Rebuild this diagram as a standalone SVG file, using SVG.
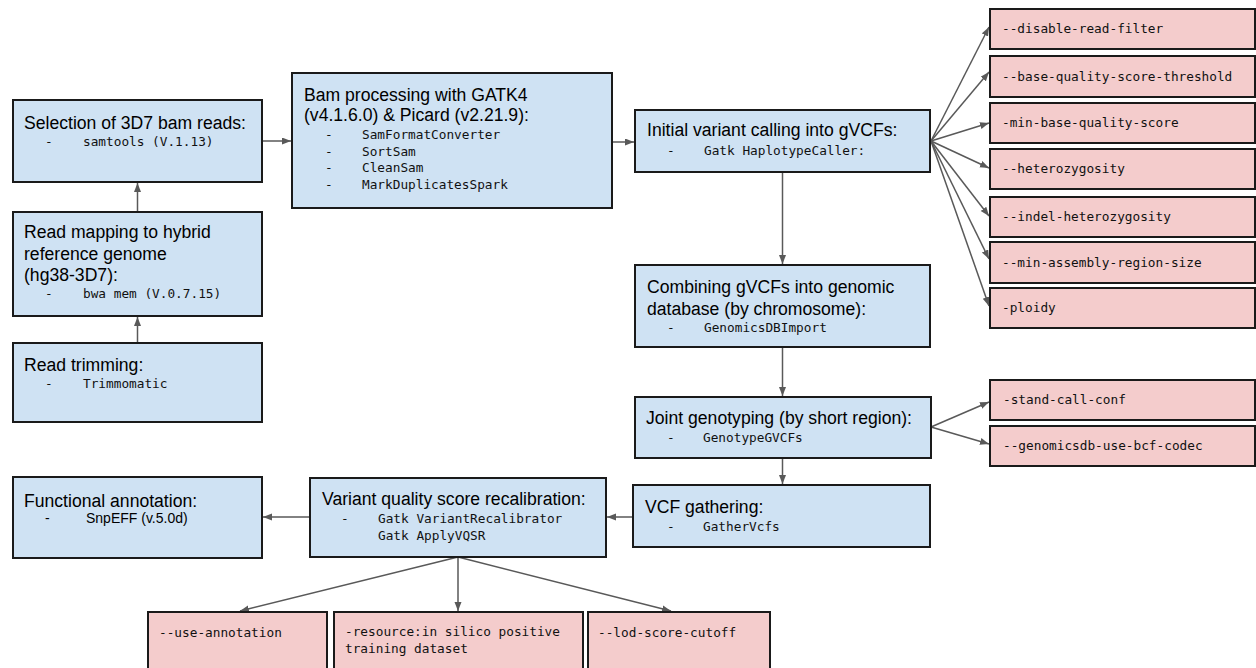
<svg xmlns="http://www.w3.org/2000/svg" width="1256" height="668" viewBox="0 0 1256 668">
<style>
.b{fill:#cfe2f3;stroke:#1a1a1a;stroke-width:2}
.p{fill:#f4cccc;stroke:#1a1a1a;stroke-width:2}
.t{font-family:"Liberation Sans",Arial,sans-serif;font-size:17.6px;fill:#000}
.s{font-family:"Liberation Sans",Arial,sans-serif;font-size:14px;fill:#000}
.m{font-family:"DejaVu Sans Mono","Liberation Mono",monospace;font-size:12.75px;fill:#111}
.c{stroke:#595959;stroke-width:1.5;fill:none;marker-end:url(#ah)}
</style>
<defs>
<marker id="ah" markerUnits="userSpaceOnUse" markerWidth="10" markerHeight="8" refX="9" refY="3.5" orient="auto">
<path d="M0,0 L9,3.5 L0,7 z" fill="#595959"/>
</marker>
</defs>
<rect width="1256" height="668" fill="#fff"/>
<g id="connectors">
<path class="c" d="M137.5,343 L137.5,317"/>
<path class="c" d="M137.5,212 L137.5,183"/>
<path class="c" d="M262,141 L291,141"/>
<path class="c" d="M612,142 L634,142"/>
<path class="c" d="M782.5,172 L782.5,264"/>
<path class="c" d="M782.5,347 L782.5,396"/>
<path class="c" d="M782.5,458 L782.5,484"/>
<path class="c" d="M633,517 L607,517"/>
<path class="c" d="M310,517 L263,517"/>
<path class="c" d="M458,557 L240,611"/>
<path class="c" d="M458,557 L458,611"/>
<path class="c" d="M458,557 L671,611"/>
<path class="c" d="M931,141 L989,27"/>
<path class="c" d="M931,141 L989,72"/>
<path class="c" d="M931,141 L989,123"/>
<path class="c" d="M931,141 L989,168"/>
<path class="c" d="M931,141 L989,216"/>
<path class="c" d="M931,141 L989,259"/>
<path class="c" d="M931,141 L989,306"/>
<path class="c" d="M931,427 L989,402"/>
<path class="c" d="M931,427 L989,444"/>
</g>
<g id="selection">
<rect class="b" x="13" y="100" width="249" height="82"/>
<text class="t" x="24" y="129">Selection of 3D7 bam reads:</text>
<text class="m" x="45" y="146">-</text>
<text class="m" x="83" y="146">samtools (V.1.13)</text>
</g>
<g id="mapping">
<rect class="b" x="13" y="212" width="249" height="104"/>
<text class="t" x="24" y="238">Read mapping to hybrid</text>
<text class="t" x="24" y="260">reference genome</text>
<text class="t" x="24" y="281">(hg38-3D7):</text>
<text class="m" x="45" y="298">-</text>
<text class="m" x="83" y="298">bwa mem (V.0.7.15)</text>
</g>
<g id="trimming">
<rect class="b" x="13" y="343" width="249" height="79"/>
<text class="t" x="24" y="371">Read trimming:</text>
<text class="m" x="45" y="388">-</text>
<text class="m" x="83" y="388">Trimmomatic</text>
</g>
<g id="bam">
<rect class="b" x="292" y="73" width="320" height="135"/>
<text class="t" x="304" y="101">Bam processing with GATK4</text>
<text class="t" x="304" y="121">(v4.1.6.0) &amp; Picard (v2.21.9):</text>
<text class="m" x="325" y="139">-</text>
<text class="m" x="362" y="139">SamFormatConverter</text>
<text class="m" x="325" y="155.5">-</text>
<text class="m" x="362" y="155.5">SortSam</text>
<text class="m" x="325" y="172">-</text>
<text class="m" x="362" y="172">CleanSam</text>
<text class="m" x="325" y="188.5">-</text>
<text class="m" x="362" y="188.5">MarkDuplicatesSpark</text>
</g>
<g id="initial">
<rect class="b" x="635" y="110" width="295" height="62"/>
<text class="t" x="647" y="136">Initial variant calling into gVCFs:</text>
<text class="m" x="667" y="155">-</text>
<text class="m" x="704" y="155">Gatk HaplotypeCaller:</text>
</g>
<g id="combining">
<rect class="b" x="635" y="265" width="295" height="82"/>
<text class="t" x="647" y="293">Combining gVCFs into genomic</text>
<text class="t" x="647" y="315">database (by chromosome):</text>
<text class="m" x="667" y="332">-</text>
<text class="m" x="704" y="332">GenomicsDBImport</text>
</g>
<g id="joint">
<rect class="b" x="635" y="397" width="296" height="61"/>
<text class="t" x="646" y="424">Joint genotyping (by short region):</text>
<text class="m" x="667" y="442">-</text>
<text class="m" x="703" y="442">GenotypeGVCFs</text>
</g>
<g id="gathering">
<rect class="b" x="633" y="485" width="297" height="62"/>
<text class="t" x="645" y="513">VCF gathering:</text>
<text class="m" x="667" y="531">-</text>
<text class="m" x="703" y="531">GatherVcfs</text>
</g>
<g id="vqsr">
<rect class="b" x="310" y="478" width="296" height="79"/>
<text class="t" x="322" y="505">Variant quality score recalibration:</text>
<text class="m" x="341" y="523">-</text>
<text class="m" x="378" y="523">Gatk VariantRecalibrator</text>
<text class="m" x="378" y="540">Gatk ApplyVQSR</text>
</g>
<g id="functional">
<rect class="b" x="13" y="477" width="249" height="81"/>
<text class="t" x="24" y="507">Functional annotation:</text>
<text class="s" x="45" y="523">-</text>
<text class="s" x="86" y="523">SnpEFF (v.5.0d)</text>
</g>
<g id="opt-disable"><rect class="p" x="990" y="9" width="265" height="40"/><text class="m" x="1002" y="33">--disable-read-filter</text></g>
<g id="opt-bqst"><rect class="p" x="990" y="56" width="265" height="41"/><text class="m" x="1002" y="81">--base-quality-score-threshold</text></g>
<g id="opt-mbqs"><rect class="p" x="990" y="103" width="265" height="40"/><text class="m" x="1002" y="127">-min-base-quality-score</text></g>
<g id="opt-het"><rect class="p" x="990" y="149" width="265" height="40"/><text class="m" x="1002" y="173">--heterozygosity</text></g>
<g id="opt-indel"><rect class="p" x="990" y="197" width="265" height="40"/><text class="m" x="1002" y="221">--indel-heterozygosity</text></g>
<g id="opt-mars"><rect class="p" x="990" y="242" width="265" height="41"/><text class="m" x="1002" y="267">--min-assembly-region-size</text></g>
<g id="opt-ploidy"><rect class="p" x="990" y="288" width="265" height="40"/><text class="m" x="1002" y="312">-ploidy</text></g>
<g id="opt-stand"><rect class="p" x="990" y="380" width="265" height="40"/><text class="m" x="1003" y="404">-stand-call-conf</text></g>
<g id="opt-gdb"><rect class="p" x="990" y="426" width="265" height="40"/><text class="m" x="1003" y="450">--genomicsdb-use-bcf-codec</text></g>
<g id="opt-annot"><rect class="p" x="148" y="612" width="179" height="70"/><text class="m" x="159" y="637">--use-annotation</text></g>
<g id="opt-resource"><rect class="p" x="334" y="612" width="249" height="70"/><text class="m" x="345" y="636">-resource:in silico positive</text><text class="m" x="345" y="653">training dataset</text></g>
<g id="opt-lod"><rect class="p" x="588" y="612" width="182" height="70"/><text class="m" x="598" y="637">--lod-score-cutoff</text></g>
</svg>
